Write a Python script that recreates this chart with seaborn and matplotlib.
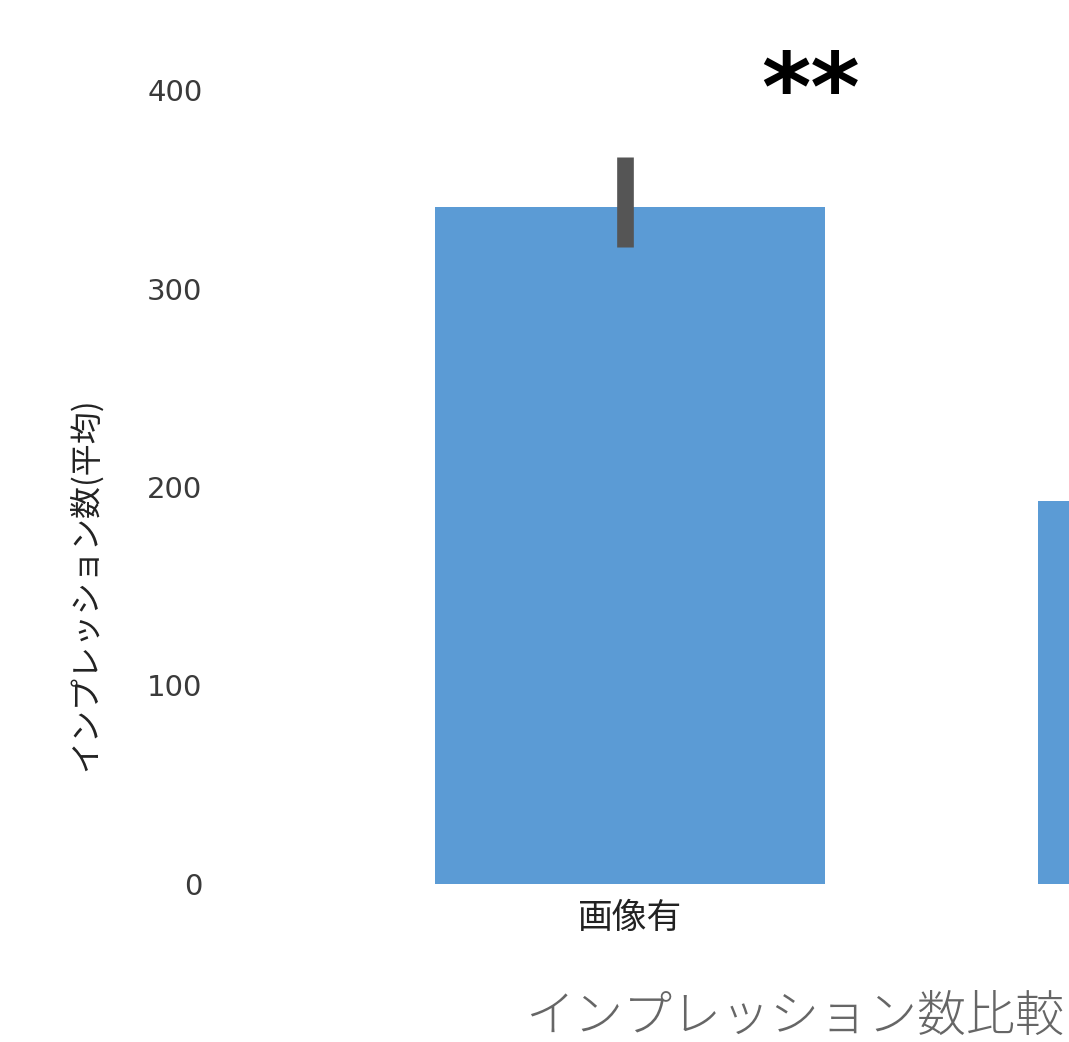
import matplotlib
matplotlib.use("Agg")
import matplotlib.pyplot as plt
import seaborn as sns
import numpy as np

categories = ["画像有", "画像無"]
means = [341, 193]
err_low = [20, 15]
err_high = [25, 15]
yticks = [0, 100, 200, 300, 400]
title = "インプレッション数比較"
ylabel = "インプレッション数(平均)"
signif = "**"

sns.set_theme(style="white")
plt.rcParams['font.family'] = ['Noto Sans CJK JP', 'DejaVu Sans']

W, H = 1069, 1042
fig = plt.figure(figsize=(W / 100, H / 100), dpi=100)
fig.patch.set_facecolor("white")

# axes extends beyond right edge (cropped view)
left_px, bottom_px, top_px = 208, 884, 90
cat_px = 603
x0, x1 = -0.7, 1.5
width_px = (x1 - x0) * cat_px
ax = fig.add_axes([left_px / W, (H - bottom_px) / H, width_px / W, (bottom_px - top_px) / H])

sns.barplot(x=categories, y=means, color="#5B9BD5", saturation=1, width=0.647,
            ax=ax, errorbar=None, linewidth=0)
ax.errorbar(x=np.arange(len(categories)) - 0.008, y=means, yerr=[err_low, err_high],
            fmt="none", ecolor="#555555", elinewidth=12, capsize=0)

ax.set_xlim(x0, x1)
ax.set_ylim(0, 400)
ax.set_yticks(yticks)
ax.set_yticklabels([str(v) for v in yticks], fontsize=21, color="#3a3a3a",
                   family=['DejaVu Sans'])
ax.tick_params(axis="y", length=0, pad=4)
ax.tick_params(axis="x", length=0, pad=12, labelsize=25, labelcolor="#222222")
# the second category's tick label lies outside the cropped view
for lbl in ax.get_xticklabels()[1:]:
    lbl.set_visible(False)
for s in ax.spines.values():
    s.set_visible(False)
ax.set_xlabel("")
ax.set_ylabel(ylabel, fontsize=23, color="#222222")
ax.yaxis.set_label_coords(-0.080, 0.377)

ax.text(0.30, 398, signif, ha="center", va="center", fontsize=68,
        fontweight="bold", color="black", family=['DejaVu Sans'], clip_on=False)

fig.text(525 / W, 1 - 1017 / H, title, ha="left", va="center", fontsize=35.3,
         color="#666666", fontweight="light")

fig.savefig("out.png", dpi=100, facecolor="white")
